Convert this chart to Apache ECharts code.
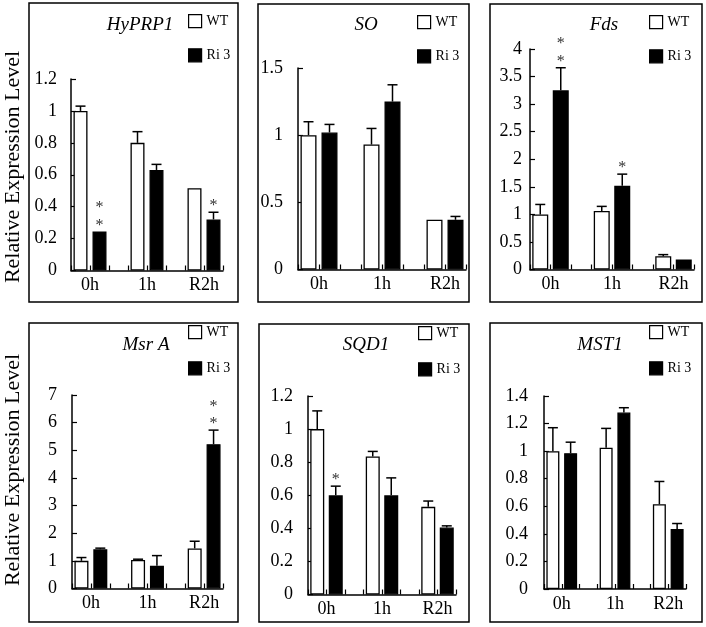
<!DOCTYPE html>
<html><head><meta charset="utf-8">
<script src="https://cdn.jsdelivr.net/npm/echarts@6/dist/echarts.min.js"></script>
<style>html,body{margin:0;padding:0;background:#fff}#c{width:706px;height:627px}</style>
</head><body><div id="c"></div>
<script>
// ---- data ----
const categories = ['0h', '1h', 'R2h'];
const geneNames = ['HyPRP1', 'SO', 'Fds', 'Msr A', 'SQD1', 'MST1'];
const seriesNames = ['WT', 'Ri 3'];

const hyprp1WT = [1.0, 0.80, 0.515];
const hyprp1WTErr = [0.03, 0.07, 0];
const hyprp1Ri = [0.245, 0.63, 0.32];
const hyprp1RiErr = [0, 0.035, 0.045];
const hyprp1Sig = [2, 0, 1];

const soWT = [1.0, 0.93, 0.37];
const soWTErr = [0.10, 0.12, 0];
const soRi = [1.02, 1.25, 0.37];
const soRiErr = [0.06, 0.125, 0.025];
const soSig = [0, 0, 0];

const fdsWT = [1.0, 1.06, 0.24];
const fdsWTErr = [0.18, 0.085, 0.03];
const fdsRi = [3.25, 1.52, 0.18];
const fdsRiErr = [0.41, 0.21, 0];
const fdsSig = [2, 1, 0];

const msrWT = [1.0, 1.03, 1.45];
const msrWTErr = [0.12, 0.03, 0.26];
const msrRi = [1.42, 0.82, 5.22];
const msrRiErr = [0.04, 0.37, 0.51];
const msrSig = [0, 0, 2];

const sqdWT = [1.0, 0.835, 0.53];
const sqdWTErr = [0.11, 0.03, 0.035];
const sqdRi = [0.60, 0.60, 0.405];
const sqdRiErr = [0.055, 0.105, 0.01];
const sqdSig = [1, 0, 0];

const mstWT = [1.0, 1.025, 0.615];
const mstWTErr = [0.17, 0.14, 0.165];
const mstRi = [0.985, 1.28, 0.435];
const mstRiErr = [0.08, 0.035, 0.04];
const mstSig = [0, 0, 0];

const yMaxes = [1.2, 1.5, 4, 7, 1.2, 1.4];
const yIntervals = [0.2, 0.5, 0.5, 1, 0.2, 0.2];

const wtSets = [hyprp1WT, soWT, fdsWT, msrWT, sqdWT, mstWT];
const wtErrSets = [hyprp1WTErr, soWTErr, fdsWTErr, msrWTErr, sqdWTErr, mstWTErr];
const riSets = [hyprp1Ri, soRi, fdsRi, msrRi, sqdRi, mstRi];
const riErrSets = [hyprp1RiErr, soRiErr, fdsRiErr, msrRiErr, sqdRiErr, mstRiErr];
const sigSets = [hyprp1Sig, soSig, fdsSig, msrSig, sqdSig, mstSig];

// ---- layout ----
const frames = [[29,3,209,299],[258,4,211,298],[490,4,212,298],[29,323,209,299],[259,324,210,298],[490,323,212,299]];
const grids = [[71,79,152,191.5],[298,68,168,201.5],[530,49,164,220.5],[72,395,151,193.5],[308,396,148,198.5],[544,396,142,193]];
const labelMargins = [14,15,8,15,15,16];
const titleX = [140,366,604,146,366,600];
const titleY = [25,25,25,345,345,345];
const SLOTS = 8; // each time point occupies 3 slots: WT, Ri 3, gap
const serif = '"Liberation Serif", "Times New Roman", serif';

const chart = echarts.init(document.getElementById('c'), null, {renderer: 'canvas'});

const option = {
  animation: false,
  backgroundColor: '#fff',
  grid: [], xAxis: [], yAxis: [], series: [], legend: [], graphic: []
};

function labelFor(v) {
  const r = Math.round(v);
  if (Math.abs(v - r) > 1e-6) return '';
  if (r % 3 === 1) return categories[(r - 1) / 3] || '';
  return '';
}

geneNames.forEach((gene, i) => {
  const [gl, gt, gw, gh] = grids[i];
  const slot = gw / SLOTS;
  const bw = Math.round(slot * 0.76);
  option.grid.push({left: gl, top: gt, width: gw, height: gh, containLabel: false});
  option.xAxis.push({
    type: 'value', gridIndex: i, min: 0, max: SLOTS, interval: 1,
    axisLine: {lineStyle: {color: '#000', width: 1.5}},
    axisTick: {show: true, inside: true, length: 5, lineStyle: {color: '#000', width: 1.2}},
    axisLabel: {formatter: labelFor, margin: 6, color: '#000', fontFamily: serif, fontSize: 18, showMinLabel: true, showMaxLabel: true},
    splitLine: {show: false}
  });
  option.yAxis.push({
    type: 'value', gridIndex: i, min: 0, max: yMaxes[i], interval: yIntervals[i],
    axisLine: {show: true, lineStyle: {color: '#000', width: 1.5}},
    axisTick: {show: true, inside: true, length: 5, lineStyle: {color: '#000', width: 1.2}},
    axisLabel: {margin: labelMargins[i], color: '#000', fontFamily: serif, fontSize: 18, padding: [8, 0, 0, 0]},
    splitLine: {show: false}
  });
  const wtData = categories.map((c, j) => [3 * j + 0.5, wtSets[i][j]]);
  const riData = categories.map((c, j) => [3 * j + 1.5, riSets[i][j]]);
  option.series.push({
    name: seriesNames[0], type: 'bar', xAxisIndex: i, yAxisIndex: i, data: wtData,
    barWidth: bw, barGap: '-100%',
    itemStyle: {color: '#fff', borderColor: '#000', borderWidth: 1.3}
  });
  option.series.push({
    name: seriesNames[1], type: 'bar', xAxisIndex: i, yAxisIndex: i, data: riData,
    barWidth: bw, barGap: '-100%',
    itemStyle: {color: '#000', borderColor: '#000', borderWidth: 1.3}
  });
  const errData = [];
  categories.forEach((c, j) => {
    errData.push([3 * j + 0.5, wtSets[i][j], wtErrSets[i][j]]);
    errData.push([3 * j + 1.5, riSets[i][j], riErrSets[i][j]]);
  });
  option.series.push({
    type: 'custom', xAxisIndex: i, yAxisIndex: i, data: errData, z: 5, silent: true,
    renderItem: (params, api) => {
      const x = api.value(0), v = api.value(1), e = api.value(2);
      if (!(e > 0)) return;
      const p0 = api.coord([x, v]), p1 = api.coord([x, v + e]);
      const hw = 5;
      return {type: 'group', children: [
        {type: 'line', shape: {x1: p0[0], y1: p0[1], x2: p1[0], y2: p1[1]}, style: {stroke: '#000', lineWidth: 1.5}},
        {type: 'line', shape: {x1: p1[0] - hw, y1: p1[1], x2: p1[0] + hw, y2: p1[1]}, style: {stroke: '#000', lineWidth: 1.5}}
      ]};
    }
  });
  const sigData = categories.map((c, j) => [3 * j + 1.5, riSets[i][j] + riErrSets[i][j], sigSets[i][j]]);
  option.series.push({
    type: 'custom', xAxisIndex: i, yAxisIndex: i, data: sigData, z: 6, silent: true,
    renderItem: (params, api) => {
      const x = api.value(0), top = api.value(1), n = api.value(2);
      if (!(n > 0)) return;
      const p = api.coord([x, top]);
      const kids = [];
      for (let k = 0; k < n; k++) {
        kids.push({type: 'text', x: p[0], y: p[1] - 6 - k * 17.5,
          style: {text: '*', font: '16px ' + serif, fill: '#333', align: 'center', verticalAlign: 'middle'}});
      }
      return {type: 'group', children: kids};
    }
  });
  const fr = frames[i];
  const row = i < 3 ? 0 : 1;
  option.legend.push({
    data: seriesNames, orient: 'vertical', left: fr[0] + 159, top: fr[1] + (row === 0 ? 11 : 2),
    itemWidth: 13, itemHeight: 13, itemGap: row === 0 ? 20 : 22, padding: 0, selectedMode: false,
    icon: 'rect', itemStyle: {borderWidth: 1.2, borderColor: '#000'},
    textStyle: {fontFamily: serif, fontSize: 14, color: '#000'}
  });
  option.graphic.push({
    type: 'rect', shape: {x: fr[0], y: fr[1], width: fr[2], height: fr[3]},
    style: {fill: 'none', stroke: '#000', lineWidth: 1.5}, silent: true, z: 0
  });
  option.graphic.push({
    type: 'text', x: titleX[i], y: titleY[i],
    style: {text: gene, font: 'italic 19px ' + serif, fill: '#000', align: 'center', verticalAlign: 'middle'}
  });
});

option.graphic.push({
  type: 'text', x: 13, y: 167, rotation: Math.PI / 2,
  style: {text: 'Relative Expression Level', font: '22px ' + serif, fill: '#000', align: 'center', verticalAlign: 'middle'}
});
option.graphic.push({
  type: 'text', x: 13, y: 470, rotation: Math.PI / 2,
  style: {text: 'Relative Expression Level', font: '22px ' + serif, fill: '#000', align: 'center', verticalAlign: 'middle'}
});

chart.setOption(option);
</script>
</body></html>
